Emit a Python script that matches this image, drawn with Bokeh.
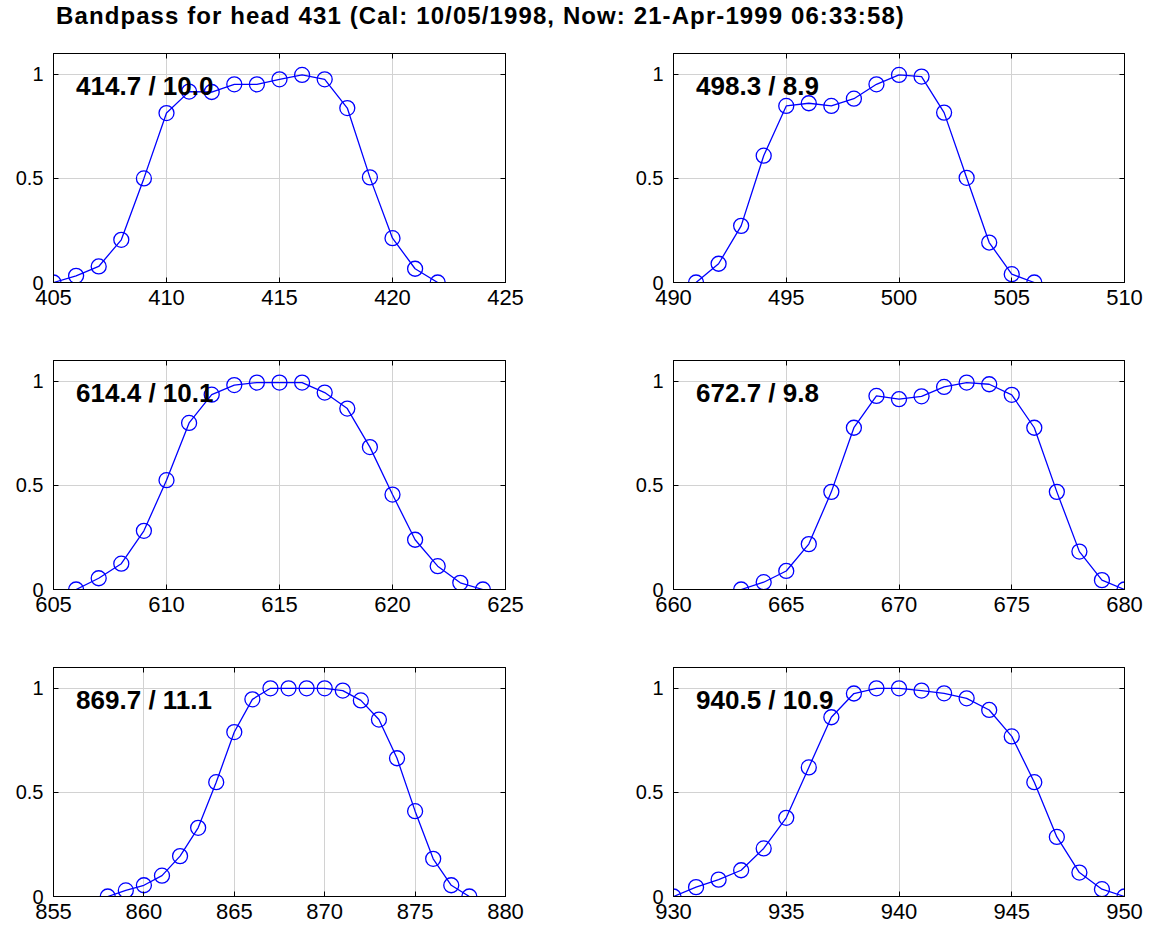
from bokeh.plotting import figure
from bokeh.layouts import column, row
from bokeh.models import Range1d, FixedTicker, LinearAxis, Div, CustomLabelingPolicy
from bokeh.embed import file_html
from bokeh.resources import INLINE
from bokeh.core.properties import value

title_text = "Bandpass for head 431 (Cal: 10/05/1998, Now: 21-Apr-1999 06:33:58)"

# ---- data (wavelength nm, normalised response) ----
wl_415 = [405, 406, 407, 408, 409, 410, 411, 412, 413, 414, 415, 416, 417, 418, 419, 420, 421, 422]
bp_415 = [0.0, 0.032, 0.077, 0.205, 0.50, 0.814, 0.917, 0.915, 0.952, 0.952, 0.976, 0.997, 0.976, 0.838, 0.505, 0.213, 0.066, 0.0]

wl_498 = [491, 492, 493, 494, 495, 496, 497, 498, 499, 500, 501, 502, 503, 504, 505, 506]
bp_498 = [0.0, 0.09, 0.272, 0.609, 0.848, 0.861, 0.848, 0.883, 0.952, 0.997, 0.989, 0.816, 0.503, 0.192, 0.04, 0.0]

wl_614 = [606, 607, 608, 609, 610, 611, 612, 613, 614, 615, 616, 617, 618, 619, 620, 621, 622, 623, 624]
bp_614 = [0.0, 0.054, 0.124, 0.282, 0.525, 0.80, 0.936, 0.982, 0.994, 0.994, 0.994, 0.946, 0.869, 0.684, 0.456, 0.239, 0.112, 0.032, 0.0]

wl_672 = [663, 664, 665, 666, 667, 668, 669, 670, 671, 672, 673, 674, 675, 676, 677, 678, 679, 680]
bp_672 = [0.0, 0.035, 0.089, 0.218, 0.469, 0.777, 0.93, 0.914, 0.928, 0.973, 0.994, 0.986, 0.935, 0.777, 0.469, 0.182, 0.045, 0.0]

wl_869 = [858, 859, 860, 861, 862, 863, 864, 865, 866, 867, 868, 869, 870, 871, 872, 873, 874, 875, 876, 877, 878]
bp_869 = [0.0, 0.029, 0.054, 0.10, 0.194, 0.33, 0.549, 0.79, 0.947, 1.0, 1.0, 1.0, 1.0, 0.989, 0.942, 0.85, 0.664, 0.41, 0.181, 0.054, 0.0]

wl_940 = [930, 931, 932, 933, 934, 935, 936, 937, 938, 939, 940, 941, 942, 943, 944, 945, 946, 947, 948, 949, 950]
bp_940 = [0.0, 0.045, 0.081, 0.126, 0.231, 0.378, 0.62, 0.861, 0.975, 1.0, 1.0, 0.989, 0.976, 0.952, 0.896, 0.769, 0.549, 0.286, 0.115, 0.035, 0.0]

band_labels = ["414.7 / 10.0", "498.3 / 8.9", "614.4 / 10.1", "672.7 / 9.8", "869.7 / 11.1", "940.5 / 10.9"]

x_limits = [(405, 425), (490, 510), (605, 625), (660, 680), (855, 880), (930, 950)]
x_ticks = [
    [405, 410, 415, 420, 425],
    [490, 495, 500, 505, 510],
    [605, 610, 615, 620, 625],
    [660, 665, 670, 675, 680],
    [855, 860, 865, 870, 875, 880],
    [930, 935, 940, 945, 950],
]
y_ticks = [0, 0.5, 1]
y_tick_labels = ["0", "0.5", "1"]
y_limits = (0, 1.1)

series = [(wl_415, bp_415), (wl_498, bp_498), (wl_614, bp_614),
          (wl_672, bp_672), (wl_869, bp_869), (wl_940, bp_940)]

FONT = "Liberation Sans"
BLUE = "#0000ff"

# layout (pixels)
row_borders = [(11, 40), (38, 40), (38, 32)]   # (top, bottom)
col_borders = [(53, 30, 452), (138, 24, 451)]  # (left, right, frame width)

HIDE_LABELS = "for (const i of indices) { indices.unset(i) }\nreturn indices"


def style_axis(ax, show_labels=True, font_size="22px", standoff=7):
    ax.major_tick_in = 5
    ax.major_tick_out = 0
    ax.minor_tick_line_color = None
    ax.axis_line_color = "black"
    ax.axis_line_width = 1
    ax.major_tick_line_color = "black"
    ax.major_tick_line_width = 1
    ax.major_label_text_font = FONT
    ax.major_label_text_color = "black"
    if show_labels:
        ax.major_label_text_font_size = font_size
        ax.major_label_standoff = standoff
    else:
        ax.major_label_text_font_size = "1px"
        ax.major_label_standoff = 0
        ax.major_label_policy = CustomLabelingPolicy(code=HIDE_LABELS)


def make_panel(i):
    r, c = divmod(i, 2)
    top_b, bot_b = row_borders[r]
    left_b, right_b, fw = col_borders[c]
    x, y = series[i]
    xlim = x_limits[i]
    p = figure(output_backend="svg", toolbar_location=None,
               frame_width=fw, frame_height=229,
               x_range=Range1d(*xlim), y_range=Range1d(*y_limits),
               min_border_left=left_b, min_border_right=right_b,
               min_border_top=top_b, min_border_bottom=bot_b,
               background_fill_color="white", border_fill_color="white")
    p.outline_line_color = "black"
    p.outline_line_width = 1

    p.xaxis.ticker = FixedTicker(ticks=x_ticks[i])
    p.yaxis.ticker = FixedTicker(ticks=y_ticks)
    p.yaxis.major_label_overrides = {float(k): v for k, v in zip(y_ticks, y_tick_labels)}
    style_axis(p.xaxis[0], True, "22px", 7)
    style_axis(p.yaxis[0], True, "20px", 10)

    top_ax = LinearAxis(ticker=FixedTicker(ticks=x_ticks[i]))
    style_axis(top_ax, False)
    p.add_layout(top_ax, "above")
    right_ax = LinearAxis(ticker=FixedTicker(ticks=y_ticks))
    style_axis(right_ax, False)
    p.add_layout(right_ax, "right")

    p.xgrid.grid_line_color = "#d2d2d2"
    p.ygrid.grid_line_color = "#d2d2d2"
    p.xgrid.grid_line_width = 1
    p.ygrid.grid_line_width = 1

    p.line(x, y, line_color=BLUE, line_width=1.3)
    p.scatter(x, y, marker="circle", size=15, fill_color=None,
              line_color=BLUE, line_width=1.3)

    tx = xlim[0] + 0.05 * (xlim[1] - xlim[0])
    p.text(x=[tx], y=[0.946], text=[band_labels[i]],
           text_font=value(FONT), text_font_style="bold",
           text_font_size="26px", text_align="left",
           text_baseline="middle", text_color="black")
    return p


panels = [make_panel(i) for i in range(6)]

title_div = Div(text=title_text, width=1148, height=32,
                styles={"font-family": "'Liberation Sans', Arial, sans-serif",
                        "font-size": "24px", "font-weight": "bold",
                        "letter-spacing": "1.1px", "line-height": "22px",
                        "padding-left": "51px", "color": "black",
                        "white-space": "nowrap"})

layout = column(title_div,
                row(panels[0], panels[1]),
                row(panels[2], panels[3]),
                row(panels[4], panels[5]))

html = file_html(layout, INLINE, title="Bandpass for head 431")
open("out.html", "w").write(html)
